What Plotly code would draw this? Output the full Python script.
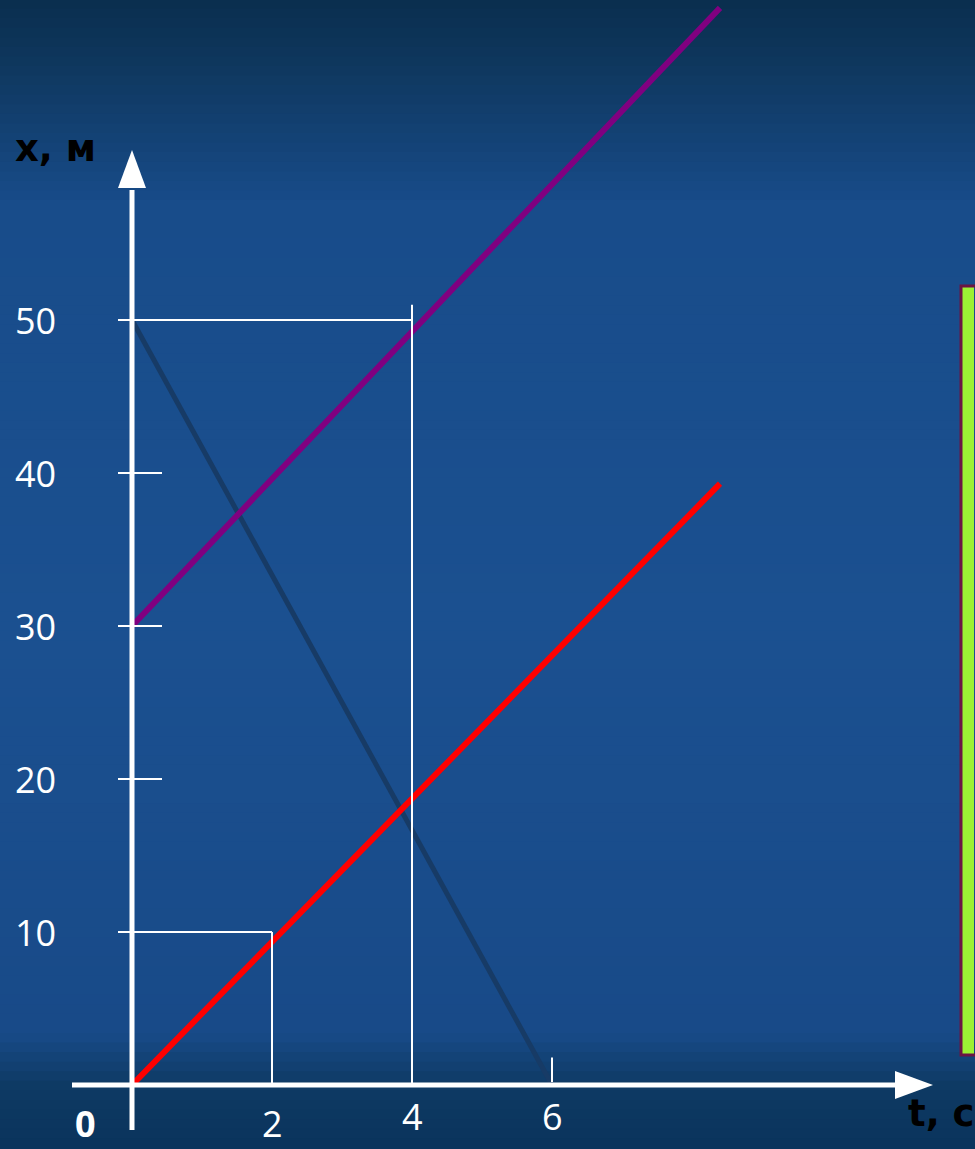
import plotly.graph_objects as go

# ---- data ----
t_red = [0, 8.4]
x_red = [0, 39.3]
t_purple = [0, 8.4]
x_purple = [30, 70.4]
t_navy = [0, 6]
x_navy = [50, 0]

y_tick_vals = [10, 20, 30, 40, 50]
y_tick_text = ["10", "20", "30", "40", "50"]
x_tick_vals = [2, 4, 6]
x_tick_text = ["2", "4", "6"]
x_label_low = {2: True, 4: False, 6: False}

W, H = 975, 1149
PX_T = 70.0      # px per second
PX_X = 15.3      # px per metre
X0_PX = 132      # pixel column of t=0
Y0_PX = 1085     # pixel row of x=0

xr = [-X0_PX / PX_T, (W - X0_PX) / PX_T]
yr = [-(H - Y0_PX) / PX_X, Y0_PX / PX_X]

fig = go.Figure()

# background gradient bands
def lerp(c1, c2, f):
    return tuple(int(round(a + (b - a) * f)) for a, b in zip(c1, c2))

stops = [(0.0, (10, 46, 78)), (0.05, (14, 54, 92)), (0.18, (24, 76, 138)),
         (0.55, (27, 80, 144)), (0.9, (24, 74, 136)), (0.945, (14, 58, 100)),
         (1.0, (10, 52, 92))]
shapes = []
N = 120
for i in range(N):
    f0 = i / N
    f1 = (i + 1) / N
    fm = (f0 + f1) / 2
    for k in range(len(stops) - 1):
        if stops[k][0] <= fm <= stops[k + 1][0]:
            a, ca = stops[k]
            b, cb = stops[k + 1]
            c = lerp(ca, cb, (fm - a) / (b - a))
            break
    shapes.append(dict(type="rect", xref="paper", yref="paper",
                       x0=0, x1=1, y0=1 - f1, y1=1 - f0 + 0.001,
                       fillcolor="rgb(%d,%d,%d)" % c, line=dict(width=0),
                       layer="below"))

white = "white"
# axes lines
shapes.append(dict(type="line", x0=0, x1=0, y0=-(1130 - Y0_PX) / PX_X,
                   y1=(Y0_PX - 190) / PX_X, line=dict(color=white, width=5)))
shapes.append(dict(type="line", x0=(72 - X0_PX) / PX_T, x1=(897 - X0_PX) / PX_T,
                   y0=0, y1=0, line=dict(color=white, width=5)))
# arrowheads
ah = 14 / PX_T
yb, yt = (Y0_PX - 188) / PX_X, (Y0_PX - 150) / PX_X
shapes.append(dict(type="path", path=f"M {-ah} {yb} L {ah} {yb} L 0 {yt} Z",
                   fillcolor=white, line=dict(width=0)))
xb, xt = (895 - X0_PX) / PX_T, (933 - X0_PX) / PX_T
hv = 14 / PX_X
shapes.append(dict(type="path", path=f"M {xb} {-hv} L {xb} {hv} L {xt} 0 Z",
                   fillcolor=white, line=dict(width=0)))

tick_l = (118 - X0_PX) / PX_T
tick_r = (162 - X0_PX) / PX_T
for v in y_tick_vals:
    shapes.append(dict(type="line", x0=tick_l, x1=tick_r, y0=v, y1=v,
                       line=dict(color=white, width=2)))
# guide lines
shapes.append(dict(type="line", x0=tick_l, x1=4, y0=50, y1=50, line=dict(color=white, width=2)))
shapes.append(dict(type="line", x0=4, x1=4, y0=0, y1=51, line=dict(color=white, width=2)))
shapes.append(dict(type="line", x0=tick_l, x1=2, y0=10, y1=10, line=dict(color=white, width=2)))
shapes.append(dict(type="line", x0=2, x1=2, y0=0, y1=10, line=dict(color=white, width=2)))
shapes.append(dict(type="line", x0=6, x1=6, y0=0.2, y1=1.8, line=dict(color=white, width=2)))

# green panel
shapes.append(dict(type="rect", xref="x", yref="y",
                   x0=(961 - X0_PX) / PX_T, x1=(974 - X0_PX) / PX_T,
                   y0=(Y0_PX - 1055) / PX_X, y1=(Y0_PX - 286) / PX_X,
                   fillcolor="#9cf134", line=dict(width=0)))
shapes.append(dict(type="rect", xref="x", yref="y",
                   x0=(961 - X0_PX) / PX_T, x1=(980 - X0_PX) / PX_T,
                   y0=(Y0_PX - 1055) / PX_X, y1=(Y0_PX - 286) / PX_X,
                   fillcolor="rgba(0,0,0,0)", line=dict(color="#6b1444", width=3)))

fig.add_trace(go.Scatter(x=t_navy, y=x_navy, mode="lines",
                         line=dict(color="#173b66", width=5), hoverinfo="skip"))
fig.add_trace(go.Scatter(x=t_purple, y=x_purple, mode="lines",
                         line=dict(color="#800080", width=6), hoverinfo="skip"))
fig.add_trace(go.Scatter(x=t_red, y=x_red, mode="lines",
                         line=dict(color="#ff0000", width=6), hoverinfo="skip"))

font_tick = dict(family="Open Sans", size=36, color="white")
ann = []
for v, s in zip(y_tick_vals, y_tick_text):
    ann.append(dict(x=(35 - X0_PX) / PX_T, y=v, text=s, showarrow=False,
                    font=font_tick, xanchor="center", yanchor="middle"))
for v, s in zip(x_tick_vals, x_tick_text):
    if x_label_low[v]:
        ann.append(dict(x=v, xref="x", y=0, yref="paper", text=s, showarrow=False,
                        font=font_tick, xanchor="center", yanchor="bottom",
                        borderpad=0))
    else:
        ann.append(dict(x=v, y=-(1116 - Y0_PX) / PX_X, text=s, showarrow=False,
                        font=font_tick, xanchor="center", yanchor="middle"))
ann.append(dict(x=(85 - X0_PX) / PX_T, xref="x", y=0, yref="paper", text="<b>0</b>",
                showarrow=False, xanchor="center", yanchor="bottom", borderpad=0,
                font=dict(family="Open Sans", size=36, color="white")))
ann.append(dict(x=(13 - X0_PX) / PX_T, y=(Y0_PX - 148) / PX_X, text="<b>x, м</b>",
                showarrow=False, xanchor="left", yanchor="middle",
                font=dict(family="DejaVu Sans", size=37, color="black")))
ann.append(dict(x=(906 - X0_PX) / PX_T, y=-(1113 - Y0_PX) / PX_X, text="<b>t, с</b>",
                showarrow=False, xanchor="left", yanchor="middle",
                font=dict(family="DejaVu Sans", size=37, color="black")))

fig.update_layout(
    width=W, height=H, margin=dict(l=0, r=0, t=0, b=0),
    paper_bgcolor="#1b4f8c", plot_bgcolor="rgba(0,0,0,0)",
    showlegend=False, shapes=shapes, annotations=ann,
    xaxis=dict(range=xr, visible=False, fixedrange=True),
    yaxis=dict(range=yr, visible=False, fixedrange=True),
)
fig.write_html("out.html", config={"displayModeBar": False},
               post_script="document.body.style.margin='0';document.body.style.overflow='hidden';")
